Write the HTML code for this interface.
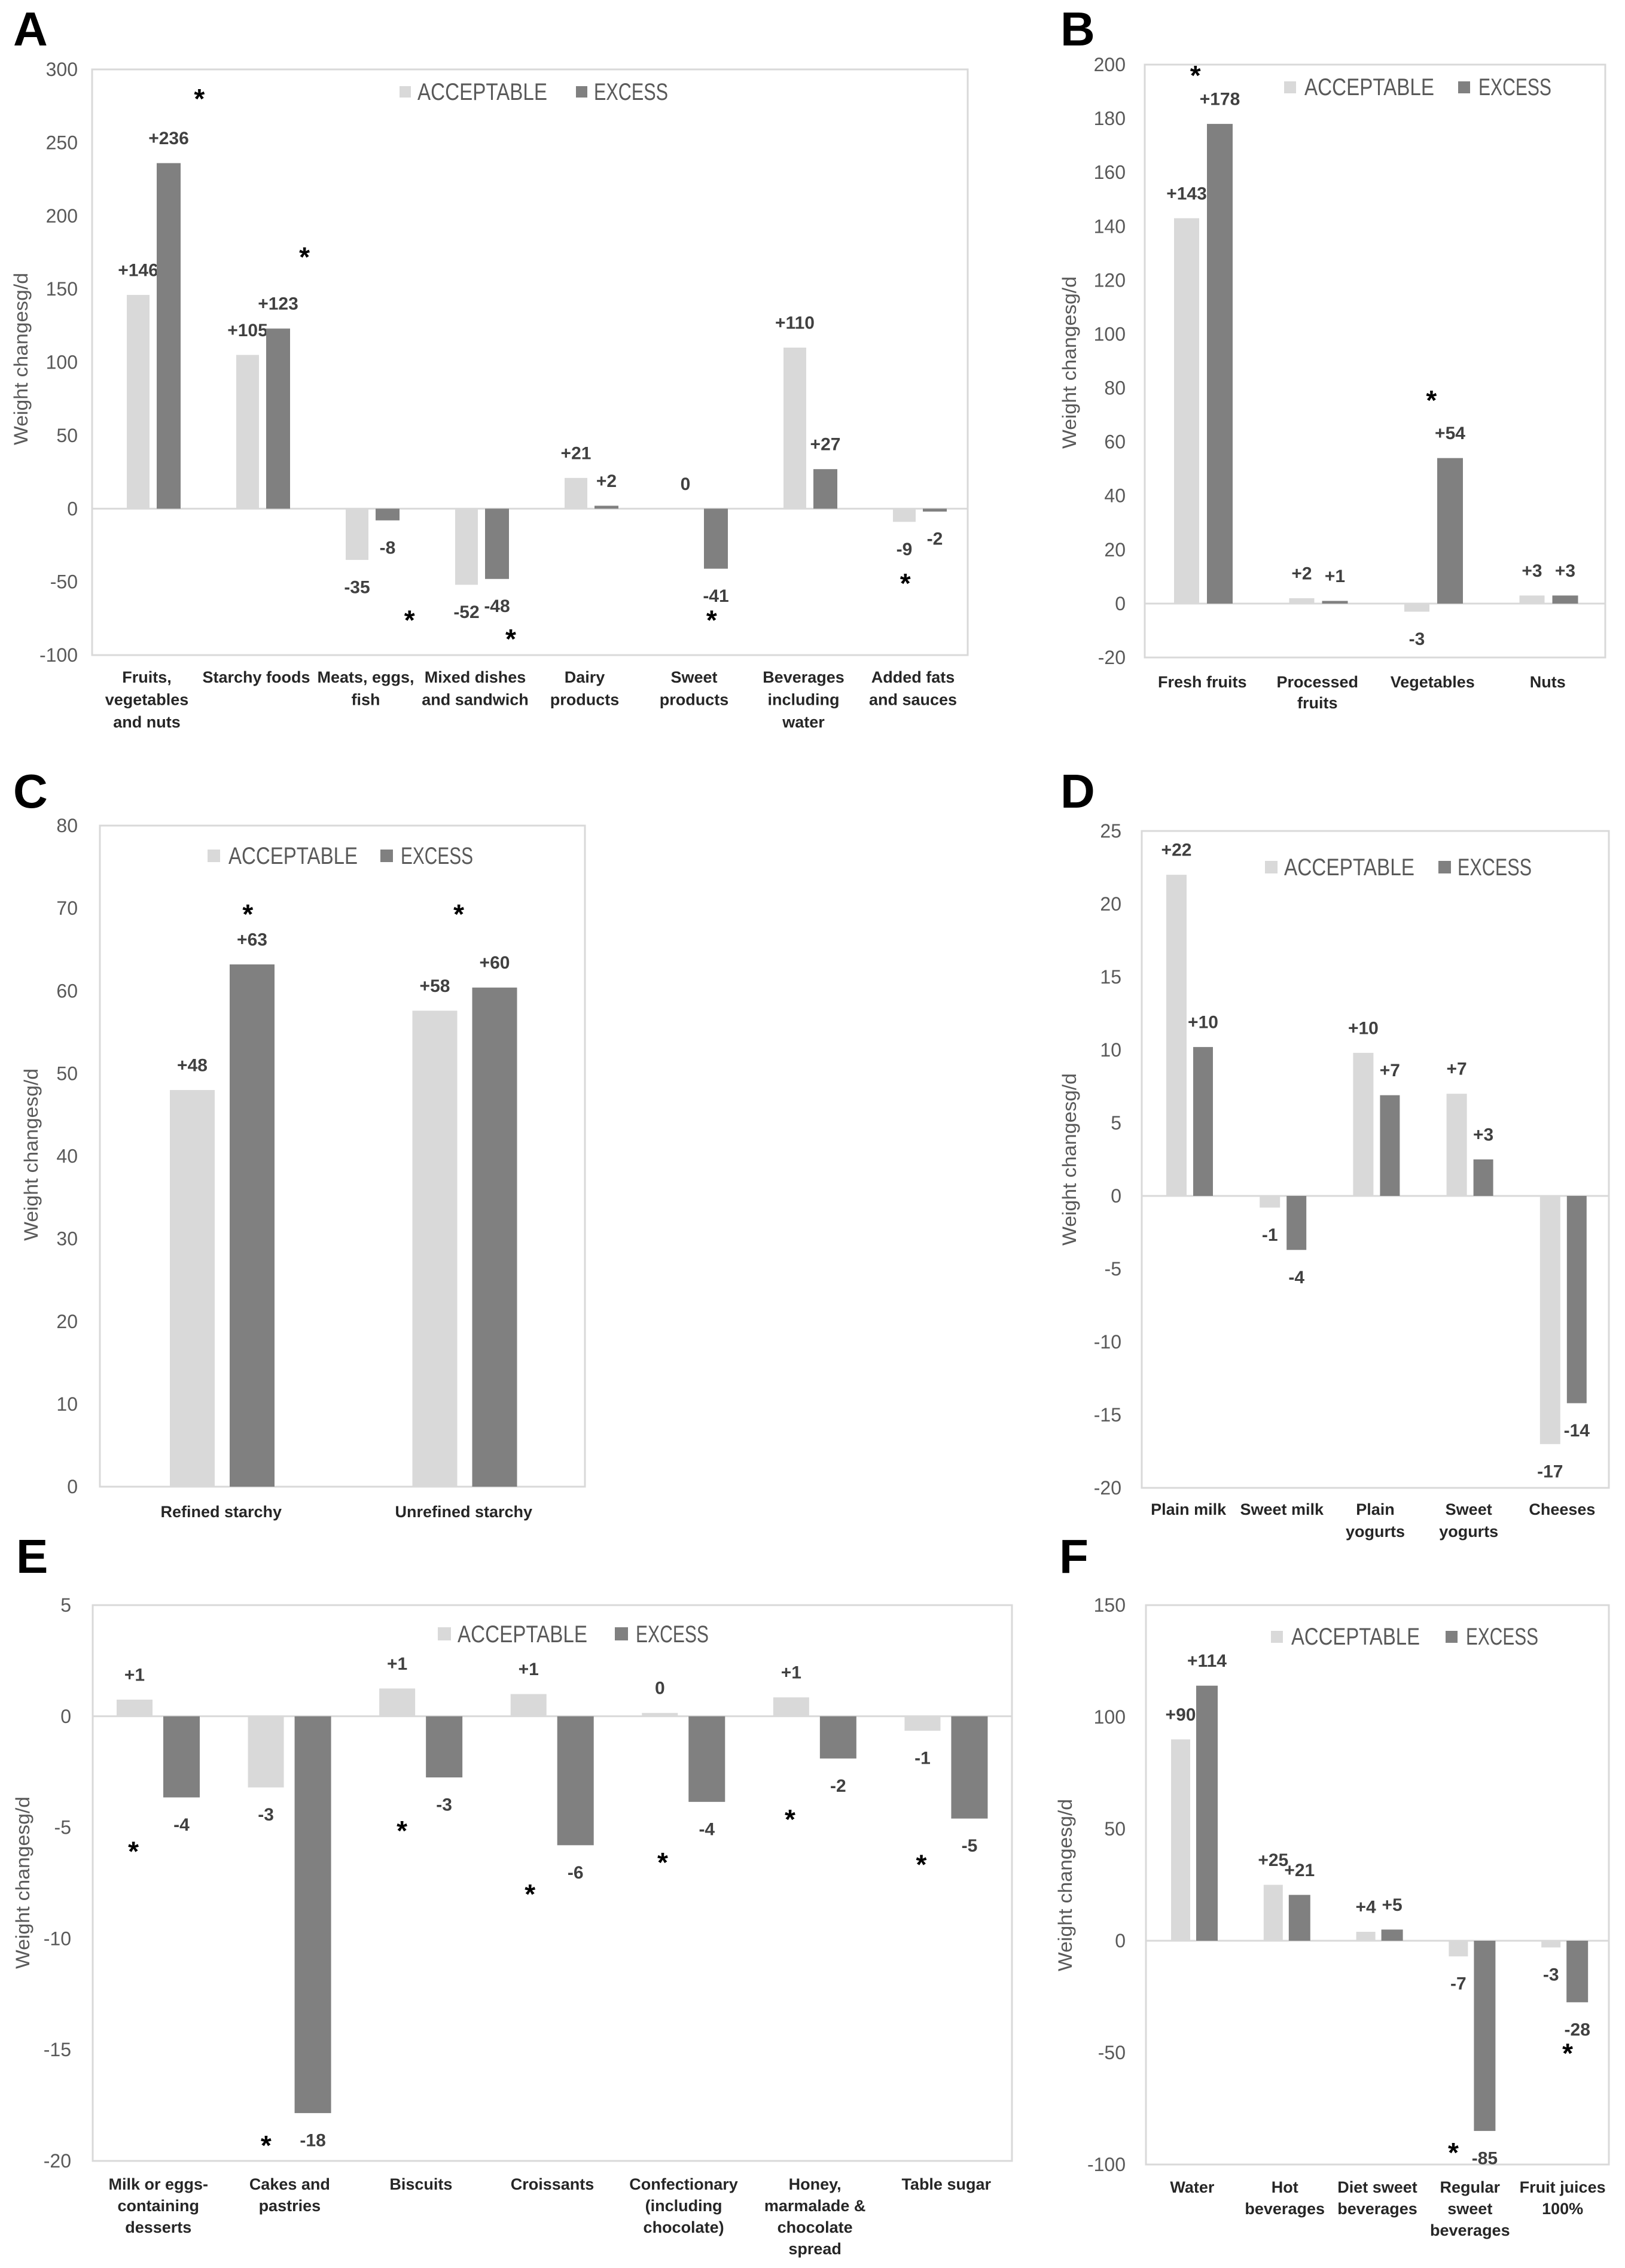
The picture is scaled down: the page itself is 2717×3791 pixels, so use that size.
<!DOCTYPE html>
<html><head><meta charset="utf-8"><style>
html,body{margin:0;padding:0;background:#fff;}
svg{display:block;font-family:"Liberation Sans",sans-serif;}
</style></head><body>
<svg id="fig" xmlns="http://www.w3.org/2000/svg" width="2717" height="3791" viewBox="0 0 2717 3791">
<rect x="0" y="0" width="2717" height="3791" fill="#fff"/>
</svg>
<script>
// ---- Panel A ----
const catsA = [["Fruits,","vegetables","and nuts"],["Starchy foods"],["Meats, eggs,","fish"],["Mixed dishes","and sandwich"],["Dairy","products"],["Sweet","products"],["Beverages","including","water"],["Added fats","and sauces"]];
const accA = [146,105,-35,-52,21,0,110,-9];
const excA = [236,123,-8,-48,2,-41,27,-2];
const ticksA = [-100,-50,0,50,100,150,200,250,300];
const starCatA = [0,1,2,3,5,7];
const starFracA = [0.98,0.94,0.90,0.825,0.66,0.43];
const starValA = [280,172,-76,-89,-76,-51];
// ---- Panel B ----
const catsB = [["Fresh fruits"],["Processed","fruits"],["Vegetables"],["Nuts"]];
const accB = [143,2,-3,3];
const excB = [178,1,54,3];
const ticksB = [-20,0,20,40,60,80,100,120,140,160,180,200];
const starCatB = [0,2];
const starFracB = [0.44,0.49];
const starValB = [196,75.5];
// ---- Panel C ----
const catsC = [["Refined starchy"],["Unrefined starchy"]];
const accC = [48,57.6];
const excC = [63.2,60.4];
const ticksC = [0,10,20,30,40,50,60,70,80];
const starCatC = [0,1];
const starFracC = [0.61,0.48];
const starValC = [69.3,69.3];
// ---- Panel D ----
const catsD = [["Plain milk"],["Sweet milk"],["Plain","yogurts"],["Sweet","yogurts"],["Cheeses"]];
const accD = [22,-0.8,9.8,7,-17];
const excD = [10.2,-3.7,6.9,2.5,-14.2];
const ticksD = [-20,-15,-10,-5,0,5,10,15,20,25];
const starCatD = [];
const starFracD = [];
const starValD = [];
// ---- Panel E ----
const catsE = [["Milk or eggs-","containing","desserts"],["Cakes and","pastries"],["Biscuits"],["Croissants"],["Confectionary","(including","chocolate)"],["Honey,","marmalade &","chocolate","spread"],["Table sugar"]];
const accE = [0.75,-3.2,1.25,1.0,0.15,0.85,-0.65];
const excE = [-3.65,-17.85,-2.75,-5.8,-3.85,-1.9,-4.6];
const ticksE = [-20,-15,-10,-5,0,5];
const starCatE = [0,1,2,3,4,5,6];
const starFracE = [0.31,0.32,0.355,0.33,0.34,0.31,0.31];
const starValE = [-6.08,-19.3,-5.14,-8.0,-6.57,-4.63,-6.67];
// ---- Panel F ----
const catsF = [["Water"],["Hot","beverages"],["Diet sweet","beverages"],["Regular","sweet","beverages"],["Fruit juices","100%"]];
const accF = [90,25,4,-7,-3];
const excF = [114,20.5,5,-85,-27.5];
const ticksF = [-100,-50,0,50,100,150];
const starCatF = [3,4];
const starFracF = [0.32,0.555];
const starValF = [-94.7,-50.3];

const NS = "http://www.w3.org/2000/svg";
const svg = document.getElementById('fig');
function mk(tag, attrs, parent, txt){
  const e = document.createElementNS(NS, tag);
  for (const k in attrs) e.setAttribute(k, attrs[k]);
  if (txt !== undefined) e.textContent = txt;
  (parent||svg).appendChild(e);
  return e;
}
function fmt(v){
  const r = Math.round(Math.abs(v));
  if (r === 0) return "0";
  return (v > 0 ? "+" : "-") + r;
}

function drawPanel(id, cfg, cats, acc, exc, ticks, sCat, sFrac, sVal){
  const g = mk('g', {});
  
  
  const vMin = ticks[0], vMax = ticks[ticks.length-1];
  const y = v => cfg.yTop + (vMax - v) * (cfg.yBot - cfg.yTop) / (vMax - vMin);
  const n = cats.length;
  const cw = (cfg.x1 - cfg.x0) / n;
  const catL = i => cfg.x0 + i * cw;

  // letter
  const L = mk('text', {x: cfg.letter[0], y: cfg.letter[1], 'font-size': 80, 'font-weight': 'bold', fill: '#000'}, g, id);
  
  

  // frame
  const fr = mk('rect', {x: cfg.x0, y: cfg.yTop, width: cfg.x1 - cfg.x0, height: cfg.yBot - cfg.yTop, fill: 'none', stroke: '#d9d9d9', 'stroke-width': 3}, g);
  
  

  // ticks
  ticks.forEach(t => {
    const tl = mk('text', {x: cfg.tickX, y: y(t), 'font-size': 32, fill: '#595959', 'text-anchor': 'end', 'dominant-baseline': 'central'}, g, String(t));
    
    
  });
  // zero line
  const z = mk('line', {x1: cfg.x0, x2: cfg.x1, y1: y(0), y2: y(0), stroke: '#d9d9d9', 'stroke-width': 3}, g);
  
  

  // y title
  const yt = mk('text', {x: 0, y: 0, 'font-size': 32, fill: '#595959', 'text-anchor': 'middle', 'dominant-baseline': 'central', textLength: 288, lengthAdjust: 'spacingAndGlyphs', transform: `translate(${cfg.title[0]},${cfg.title[1]}) rotate(-90)`}, g, 'Weight changesg/d');
  
  

  // bars
  function bars(vals, off, color, name){
    vals.forEach((v, i) => {
      const xa = catL(i) + off[0], w = off[1] - off[0];
      const y0 = y(0), yv = y(v);
      const r = mk('rect', {x: xa, y: Math.min(y0, yv), width: w, height: Math.max(Math.abs(yv - y0), 1), fill: color}, g);
      
      
      const cy = v >= 0 ? yv - 41 : yv + 46;
      const lb = mk('text', {x: xa + w/2, y: cy, 'font-size': 30, 'font-weight': 'bold', fill: '#404040', 'text-anchor': 'middle', 'dominant-baseline': 'central'}, g, fmt(v));
      
      
    });
  }
  bars(acc, cfg.acc, '#d9d9d9', 'acceptable');
  bars(exc, cfg.exc, '#808080', 'excess');

  // category labels
  cats.forEach((lines, i) => {
    const cx = catL(i) + cw/2;
    const t = mk('text', {x: cx, y: cfg.catY, 'font-size': 27, 'font-weight': 'bold', fill: '#262626', 'text-anchor': 'middle', 'dominant-baseline': 'central'}, g);
    
    
    lines.forEach((ln, j) => {
      mk('tspan', {x: cx, y: cfg.catY + j * cfg.catDy}, t, ln);
    });
  });

  // stars
  sCat.forEach((c, k) => {
    const s = mk('text', {x: catL(c) + sFrac[k] * cw, y: y(sVal[k]) + 16, 'font-size': 46, 'font-weight': 'bold', fill: '#000', 'text-anchor': 'middle'}, g, '*');
    
    
  });

  // legend
  const lg = mk('g', {}, g);
  
  
  const Lg = cfg.legend;
  const s1 = mk('rect', {x: Lg.sq1, y: Lg.sqY, width: Lg.sz, height: Lg.sz, fill: '#d9d9d9'}, lg);
  
  
  const t1 = mk('text', {x: Lg.t1, y: Lg.cy, 'font-size': 40, fill: '#595959', 'dominant-baseline': 'central', textLength: Lg.l1, lengthAdjust: 'spacingAndGlyphs'}, lg, 'ACCEPTABLE');
  
  
  const s2 = mk('rect', {x: Lg.sq2, y: Lg.sqY, width: Lg.sz, height: Lg.sz, fill: '#808080'}, lg);
  
  
  const t2 = mk('text', {x: Lg.t2, y: Lg.cy, 'font-size': 40, fill: '#595959', 'dominant-baseline': 'central', textLength: Lg.l2, lengthAdjust: 'spacingAndGlyphs'}, lg, 'EXCESS');
  
  
}

drawPanel('A', {x0:154,x1:1618,yTop:116,yBot:1095,acc:[58,96],exc:[108,148],tickX:130,title:[35,600],letter:[22,76],catY:1132,catDy:37.5,
  legend:{sq1:668,sqY:144,sz:19,t1:698,cy:154,l1:217,sq2:963,t2:993,l2:124}}, catsA, accA, excA, ticksA, starCatA, starFracA, starValA);
drawPanel('B', {x0:1914,x1:2684,yTop:108,yBot:1099,acc:[49,91],exc:[104,147],tickX:1882,title:[1788,606],letter:[1773,76],catY:1140,catDy:35,
  legend:{sq1:2147,sqY:136,sz:20,t1:2181,cy:146,l1:217,sq2:2438,t2:2472,l2:122}}, catsB, accB, excB, ticksB, starCatB, starFracB, starValB);
drawPanel('C', {x0:167,x1:978,yTop:1380,yBot:2485,acc:[117,192],exc:[217,292],tickX:130,title:[52,1930],letter:[22,1350],catY:2527,catDy:36,
  legend:{sq1:347,sqY:1420,sz:21,t1:382,cy:1431,l1:216,sq2:636,t2:670,l2:121}}, catsC, accC, excC, ticksC, starCatC, starFracC, starValC);
drawPanel('D', {x0:1909,x1:2690,yTop:1389,yBot:2487,acc:[41,75],exc:[86,119],tickX:1875,title:[1788,1938],letter:[1773,1350],catY:2523,catDy:37,
  legend:{sq1:2115,sqY:1439,sz:21,t1:2147,cy:1450,l1:218,sq2:2405,t2:2437,l2:124}}, catsD, accD, excD, ticksD, starCatD, starFracD, starValD);
drawPanel('E', {x0:155,x1:1692,yTop:2683,yBot:3612,acc:[40,100],exc:[118,179],tickX:119,title:[38,3147],letter:[27,2629],catY:3651,catDy:36,
  legend:{sq1:732,sqY:2720,sz:22,t1:765,cy:2732,l1:217,sq2:1028,t2:1063,l2:122}}, catsE, accE, excE, ticksE, starCatE, starFracE, starValE);
drawPanel('F', {x0:1916,x1:2690,yTop:2683,yBot:3618,acc:[42,74],exc:[84,120],tickX:1882,title:[1781,3151],letter:[1771,2629],catY:3656,catDy:36,
  legend:{sq1:2125,sqY:2726,sz:20,t1:2159,cy:2736,l1:215,sq2:2417,t2:2451,l2:121}}, catsF, accF, excF, ticksF, starCatF, starFracF, starValF);
</script>
</body></html>
